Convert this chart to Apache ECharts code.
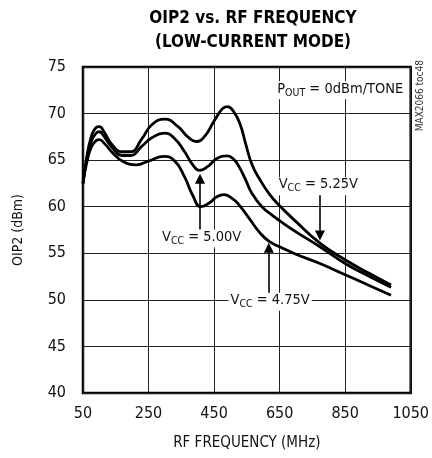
<!DOCTYPE html>
<html><head><meta charset="utf-8">
<script src="https://cdn.jsdelivr.net/npm/echarts@6/dist/echarts.min.js"></script>
<style>html,body{margin:0;padding:0;background:#fff}#c{width:432px;height:458px}</style>
</head><body><div id="c"></div>
<script>
var FONT = "'DejaVu Sans Condensed','Liberation Sans Narrow','Arial Narrow','Liberation Sans',sans-serif";
// frequency (MHz) / OIP2 (dBm)
var freq525 = [50,60,75,90,100,115,140,170,195,230,260,300,340,370,395,420,450,475,490,510,530,546,566,590,620,650,700,773,850,920,990];
var oip525  = [62.5,65.0,67.5,68.5,68.6,68.0,66.6,65.9,65.9,67.3,68.8,69.4,68.6,67.5,67.0,67.5,69.2,70.5,70.75,70.2,68.8,66.8,64.5,62.9,61.3,60.1,58.4,56.1,54.3,52.9,51.6];
var freq500 = [50,60,75,90,100,115,140,170,195,230,260,298,330,360,385,405,430,460,490,510,526,546,566,596,627,650,700,773,850,920,990];
var oip500  = [62.5,64.8,67.0,67.9,68.05,67.5,66.3,65.5,65.5,66.5,67.4,67.9,67.3,65.9,64.5,63.9,64.3,65.2,65.45,65.1,64.3,62.9,61.4,60.0,59.1,58.5,57.3,55.7,53.9,52.6,51.35];
var freq475 = [50,60,75,90,100,115,140,170,213,250,298,330,360,385,410,435,460,480,505,526,556,590,617,650,700,773,850,920,990];
var oip475  = [62.5,64.5,66.4,67.1,67.2,66.8,65.8,64.9,64.5,64.9,65.4,64.9,63.2,61.2,60.0,60.4,61.1,61.3,60.9,60.2,58.8,57.2,56.3,55.7,54.9,53.9,52.7,51.6,50.5];
var xTicks = [50,250,450,650,850,1050];
var yTicks = [40,45,50,55,60,65,70,75];
// annotations (data coords)
var labels = [
  {name:'pout', at:[835,72.5], text:'{n|P}{s|OUT}{n| = 0dBm/TONE}'},
  {name:'v525', at:[768,62.2], text:'{n|V}{s|CC}{n| = 5.25V}'},
  {name:'v500', at:[412,56.6], text:'{n|V}{s|CC}{n| = 5.00V}'},
  {name:'v475', at:[621,49.8], text:'{n|V}{s|CC}{n| = 4.75V}'}
];
var arrows = [
  [[773,61.4],[773,56.9]],
  [[407,57.3],[407,63.0]],
  [[617,50.7],[617,55.6]]
];
function zip(a,b){return a.map(function(v,i){return [v,b[i]];});}
var rich = {
  n:{fontFamily:FONT,fontSize:14.5,color:'#111',lineHeight:18,verticalAlign:'top'},
  s:{fontFamily:FONT,fontSize:10.5,color:'#111',lineHeight:18,verticalAlign:'top',padding:[6,0,0,0]}
};
var chart = echarts.init(document.getElementById('c'));
var lineStyle = {color:'#000',width:2.8};
var opt = {
  animation:false,
  backgroundColor:'#fff',
  title:{text:'OIP2 vs. RF FREQUENCY\n(LOW-CURRENT MODE)',left:248,top:2,textAlign:'center',
    textStyle:{fontFamily:FONT,fontWeight:'bold',fontSize:17,lineHeight:24,color:'#000'}},
  grid:{left:83,right:19,top:67,bottom:65,show:true,borderColor:'#000',borderWidth:2.5,backgroundColor:'transparent'},
  xAxis:{type:'value',min:50,max:1050,interval:200,
    name:'RF FREQUENCY (MHz)',nameLocation:'middle',nameGap:43,
    nameTextStyle:{fontFamily:FONT,fontSize:15,color:'#111'},
    axisLine:{show:false},axisTick:{show:false},
    axisLabel:{fontFamily:FONT,fontSize:16,color:'#111',margin:13,formatter:function(v){return String(v);}},
    splitLine:{show:true,lineStyle:{color:'#222',width:1}}},
  yAxis:{type:'value',min:40,max:75,interval:5,
    name:'OIP2 (dBm)',nameLocation:'middle',nameGap:58,
    nameTextStyle:{fontFamily:FONT,fontSize:14,color:'#111'},
    axisLine:{show:false},axisTick:{show:false},
    axisLabel:{fontFamily:FONT,fontSize:16,color:'#111',margin:17},
    splitLine:{show:true,lineStyle:{color:'#222',width:1}}},
  series:[
    {name:'VCC = 5.25V',type:'line',smooth:0.5,showSymbol:false,data:zip(freq525,oip525),lineStyle:lineStyle,z:3},
    {name:'VCC = 5.00V',type:'line',smooth:0.5,showSymbol:false,data:zip(freq500,oip500),lineStyle:lineStyle,z:3},
    {name:'VCC = 4.75V',type:'line',smooth:0.5,showSymbol:false,data:zip(freq475,oip475),lineStyle:lineStyle,z:3},
    {type:'line',data:[],z:4,silent:true,
      markLine:{silent:true,symbol:['none','triangle'],symbolSize:10,
        lineStyle:{color:'#000',width:1.6,type:'solid'},label:{show:false},
        itemStyle:{color:'#000'},
        data:arrows.map(function(a){return [{coord:a[0]},{coord:a[1]}];})},
      markPoint:{silent:true,symbol:'rect',symbolSize:0,
        data:labels.map(function(l){return {coord:l.at,label:{show:true,position:'inside',
          formatter:l.text,rich:rich,backgroundColor:'#fff',padding:[0,2,0,2]}};})}
    }
  ],
  graphic:[{type:'text',left:415,top:60,rotation:Math.PI/2,
    style:{text:'MAX2066 toc48',fontFamily:FONT,fontSize:10,fill:'#333'}}]
};
chart.setOption(opt);
</script></body></html>
